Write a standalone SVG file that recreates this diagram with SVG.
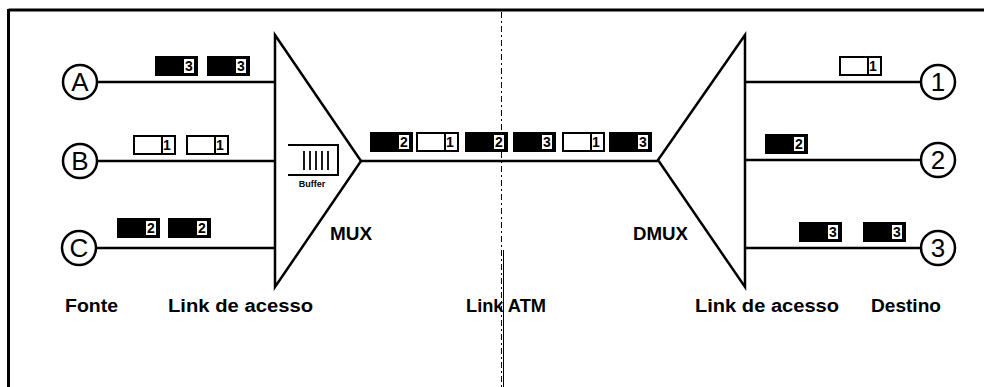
<svg xmlns="http://www.w3.org/2000/svg" width="984" height="387" viewBox="0 0 984 387">
<style>
.ln{stroke:#000;stroke-width:2.5;fill:none}
.tri{stroke:#000;stroke-width:2.5;fill:#fff;stroke-linejoin:miter}
.circ{stroke:#000;stroke-width:2.5;fill:#fff}
.cl{font-family:"Liberation Sans",Arial,sans-serif;font-size:26px;text-anchor:middle;fill:#000}
.lbl{font-family:"Liberation Sans",Arial,sans-serif;font-size:18px;font-weight:bold;fill:#000}
.cb{fill:#000}
.cw{fill:#fff;stroke:#000;stroke-width:2}
.db{fill:#fff;stroke:#000;stroke-width:1}
.dg{font-family:"Liberation Sans",Arial,sans-serif;font-size:14px;font-weight:bold;text-anchor:middle;fill:#000}
.buf{font-family:"Liberation Sans",Arial,sans-serif;font-size:9px;font-weight:bold;text-anchor:middle;fill:#000}
</style>
<defs>
<g id="cellB"><rect class="cb" x="0" y="0" width="43" height="20"/><rect class="db" x="28.5" y="2.5" width="11" height="15"/></g>
<g id="cellW"><rect class="cw" x="1" y="1" width="41" height="18"/><line x1="29" y1="1" x2="29" y2="19" stroke="#000" stroke-width="2"/></g>
</defs>
<rect width="984" height="387" fill="#fff"/>
<!-- frame -->
<g id="frame">
<line x1="8.5" y1="10" x2="984" y2="10" stroke="#000" stroke-width="3"/>
<line x1="8.5" y1="9" x2="8.5" y2="387" stroke="#000" stroke-width="3"/>
<line x1="501.5" y1="12" x2="501.5" y2="387" stroke="#000" stroke-width="1" stroke-dasharray="6 3 2 3"/>
<line x1="503.5" y1="250" x2="503.5" y2="387" stroke="#000" stroke-width="1"/>
</g>
<!-- connectors -->
<g id="connectors">
<line class="ln" x1="97" y1="82" x2="275" y2="82"/>
<line class="ln" x1="97" y1="161" x2="275" y2="161"/>
<line class="ln" x1="97" y1="248" x2="275" y2="248"/>
<line class="ln" x1="361" y1="161" x2="658" y2="161"/>
<line class="ln" x1="745" y1="82" x2="921" y2="82"/>
<line class="ln" x1="745" y1="160" x2="921" y2="160"/>
<line class="ln" x1="745" y1="248" x2="921" y2="248"/>
</g>
<!-- sources -->
<g id="nodeA"><circle class="circ" cx="80" cy="82" r="17"/><text class="cl" x="80" y="91">A</text></g>
<g id="nodeB"><circle class="circ" cx="80" cy="161" r="17"/><text class="cl" x="80" y="170">B</text></g>
<g id="nodeC"><circle class="circ" cx="79" cy="248" r="17"/><text class="cl" x="79" y="257">C</text></g>
<!-- destinations -->
<g id="node1"><circle class="circ" cx="938" cy="82" r="17"/><text class="cl" x="938" y="91">1</text></g>
<g id="node2"><circle class="circ" cx="938" cy="160" r="17"/><text class="cl" x="938" y="169">2</text></g>
<g id="node3"><circle class="circ" cx="938" cy="248" r="17"/><text class="cl" x="938" y="257">3</text></g>
<!-- MUX -->
<g id="mux">
<polygon class="tri" points="275,35 361,161 275,287"/>
<path d="M288,145 H338 V175 H288" fill="none" stroke="#000" stroke-width="2"/>
<g stroke="#000" stroke-width="1.8">
<line x1="304" y1="151" x2="304" y2="170"/>
<line x1="310" y1="151" x2="310" y2="170"/>
<line x1="316" y1="151" x2="316" y2="170"/>
<line x1="322" y1="151" x2="322" y2="170"/>
<line x1="328" y1="151" x2="328" y2="170"/>
</g>
<text class="buf" x="312" y="187">Buffer</text>
<text class="lbl" x="330" y="240" textLength="42" lengthAdjust="spacingAndGlyphs">MUX</text>
</g>
<!-- DMUX -->
<g id="dmux">
<polygon class="tri" points="745,35 658,160 745,287"/>
<text class="lbl" x="633" y="240" textLength="55" lengthAdjust="spacingAndGlyphs">DMUX</text>
</g>
<!-- cells -->
<g id="cells">
<use href="#cellB" x="155" y="56"/><text class="dg" x="189" y="71">3</text>
<use href="#cellB" x="207" y="56"/><text class="dg" x="241" y="71">3</text>
<use href="#cellW" x="133" y="135"/><text class="dg" x="167" y="150">1</text>
<use href="#cellW" x="186" y="135"/><text class="dg" x="220" y="150">1</text>
<use href="#cellB" x="117" y="218"/><text class="dg" x="151" y="233">2</text>
<use href="#cellB" x="168" y="218"/><text class="dg" x="202" y="233">2</text>
<use href="#cellB" x="370" y="132"/><text class="dg" x="404" y="147">2</text>
<use href="#cellW" x="416" y="132"/><text class="dg" x="450" y="147">1</text>
<use href="#cellB" x="465" y="132"/><text class="dg" x="499" y="147">2</text>
<use href="#cellB" x="513" y="132"/><text class="dg" x="547" y="147">3</text>
<use href="#cellW" x="562" y="132"/><text class="dg" x="596" y="147">1</text>
<use href="#cellB" x="609" y="132"/><text class="dg" x="643" y="147">3</text>
<use href="#cellW" x="839" y="56"/><text class="dg" x="873" y="71">1</text>
<use href="#cellB" x="765" y="134"/><text class="dg" x="799" y="149">2</text>
<use href="#cellB" x="799" y="222"/><text class="dg" x="833" y="237">3</text>
<use href="#cellB" x="863" y="222"/><text class="dg" x="897" y="237">3</text>
</g>
<!-- labels -->
<g id="labels">
<text class="lbl" x="65" y="312" textLength="53" lengthAdjust="spacingAndGlyphs">Fonte</text>
<text class="lbl" x="168" y="312" textLength="145" lengthAdjust="spacingAndGlyphs">Link de acesso</text>
<text class="lbl" x="466" y="312" textLength="80" lengthAdjust="spacingAndGlyphs">Link ATM</text>
<text class="lbl" x="695" y="312" textLength="144" lengthAdjust="spacingAndGlyphs">Link de acesso</text>
<text class="lbl" x="871" y="312" textLength="70" lengthAdjust="spacingAndGlyphs">Destino</text>
</g>
</svg>
